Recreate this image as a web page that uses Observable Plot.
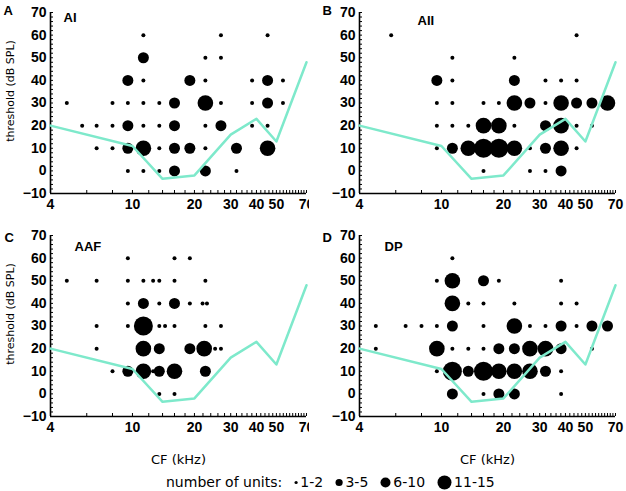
<!DOCTYPE html>
<html>
<head>
<meta charset="utf-8">
<script src="https://cdn.jsdelivr.net/npm/d3@7"></script>
<script src="https://cdn.jsdelivr.net/npm/@observablehq/plot@0.6"></script>
<style>
  body { margin: 0; background: white; }
  #fig { position: relative; width: 626px; height: 491px; background: white; }
  .panel { position: absolute; }
  #legend { position: absolute; left: 166px; top: 472px; height: 20px; display: flex; align-items: center;
            font-family: "DejaVu Sans", sans-serif; font-size: 14px; color: black; white-space: nowrap; }
  #legend .item { display: flex; align-items: center; margin-left: 12px; }
  #legend .item:first-of-type { margin-left: 10px; }
  #legend svg { margin-right: 2px; }
</style>
</head>
<body>
<div id="fig">
  <div class="panel" id="pA" style="left:0;top:0"></div>
  <div class="panel" id="pB" style="left:309px;top:0"></div>
  <div class="panel" id="pC" style="left:0;top:223px"></div>
  <div class="panel" id="pD" style="left:309px;top:223px"></div>
  <div id="legend"></div>
</div>
<script>
// unit-count bins (index used in the data rows)
const unitBins = ["1-2", "3-5", "6-10", "11-15"]

// audiogram (cyan line)
const audioCF = [4, 10, 14, 20, 30, 40, 50, 70]
const audioThr = [20, 11, -3.5, -2, 16, 23, 13, 48]

// rows: [CF kHz, threshold dB SPL, unit bin]
const AI = [
  [11.3,60,0],[26.9,60,0],[45.3,60,0],
  [11.3,50,1],[22.6,50,0],[26.9,50,0],
  [9.5,40,1],[11.3,40,0],[19,40,1],[22.6,40,0],[38.1,40,0],[45.3,40,1],[53.8,40,0],
  [4.8,30,0],[8,30,0],[9.5,30,0],[11.3,30,0],[13.5,30,0],[16,30,1],[22.6,30,2],[26.9,30,0],[38.1,30,0],[45.3,30,1],[53.8,30,0],
  [5.7,20,0],[6.7,20,0],[8,20,0],[9.5,20,1],[11.3,20,0],[13.5,20,0],[16,20,1],[22.6,20,0],[26.9,20,1],[38.1,20,0],[45.3,20,0],
  [6.7,10,0],[8,10,0],[9.5,10,1],[11.3,10,2],[13.5,10,0],[16,10,1],[19,10,1],[22.6,10,0],[32,10,1],[45.3,10,2],
  [9.5,0,0],[11.3,0,0],[13.5,0,0],[16,0,1],[22.6,0,1],[32,0,0]
]
const AII = [
  [5.7,60,0],[45.3,60,0],
  [11.3,50,0],[22.6,50,0],
  [9.5,40,1],[11.3,40,0],[22.6,40,1],[32,40,0],[38.1,40,0],[45.3,40,0],
  [9.5,30,0],[11.3,30,0],[16,30,0],[19,30,0],[22.6,30,2],[26.9,30,1],[32,30,0],[38.1,30,2],[45.3,30,1],[53.8,30,1],[64,30,2],
  [9.5,20,0],[11.3,20,0],[13.5,20,0],[16,20,2],[19,20,2],[22.6,20,0],[32,20,1],[38.1,20,2],[45.3,20,0],[53.8,20,0],
  [9.5,10,0],[11.3,10,1],[13.5,10,2],[16,10,3],[19,10,3],[22.6,10,2],[26.9,10,0],[32,10,1],[38.1,10,2],[45.3,10,0],
  [16,0,0],[26.9,0,0],[32,0,0],[38.1,0,1]
]
const AAF = [
  [9.5,60,0],[16,60,0],[19,60,0],
  [4.8,50,0],[6.7,50,0],[9.5,50,0],[11.3,50,0],[12.6,50,0],[13.5,50,0],[16,50,0],[22.6,50,0],
  [9.5,40,0],[11.3,40,1],[13.5,40,0],[16,40,1],[19,40,0],[21.9,40,0],[23,40,0],
  [6.7,30,0],[9.5,30,0],[11.3,30,3],[13.5,30,0],[14.4,30,0],[16,30,0],[22.6,30,0],[26.9,30,0],
  [6.7,20,0],[11.3,20,2],[13.5,20,1],[19,20,1],[22.3,20,2],[25.2,20,0],[26.9,20,0],
  [8,10,0],[9.5,10,1],[11.3,10,2],[12.6,10,0],[13.5,10,1],[16,10,2],[22.6,10,1],
  [13.5,0,0],[16,0,0]
]
const DP = [
  [11.3,60,0],
  [9.5,50,0],[11.3,50,2],[16,50,1],[19,50,0],[38.1,50,0],
  [11.3,40,2],[13.5,40,0],[16,40,0],[22.6,40,0],[38.1,40,0],[45.3,40,0],
  [4.8,30,0],[6.7,30,0],[8,30,0],[9.5,30,0],[11.3,30,1],[16,30,0],[22.6,30,2],[26.9,30,0],[32,30,0],[38.1,30,1],[45.3,30,0],[53.8,30,1],[64,30,1],
  [4.8,20,0],[9.5,20,2],[11.3,20,0],[13.5,20,0],[16,20,0],[19,20,1],[22.6,20,1],[26.9,20,2],[32,20,2],[38.1,20,1],[53.8,20,0],
  [9.5,10,0],[11.3,10,3],[13.5,10,1],[16,10,3],[19,10,2],[22.6,10,2],[26.9,10,2],[32,10,1],[38.1,10,0],
  [11.3,0,1],[16,0,0],[19,0,1],[22.6,0,1],[38.1,0,0]
]

// axes
const xDomain = [4, 70]
const yDomain = [-10, 70]
const xTicks = [4, 10, 20, 30, 40, 50, 70]
const yTicks = [-10, 0, 10, 20, 30, 40, 50, 60, 70]

// dot radius per bin (plot and legend)
const dotR = [2, 5.5, 7.8, 9.5]
const legendR = [1.6, 3.6, 5, 7]

const audiogram = audioCF.map((cf, i) => ({cf, thr: audioThr[i]}))
const labelFont = "DejaVu Sans, sans-serif"

function panel(el, {letter, name, rows, left, bottom, letterDx, letterDy, nameDx, nameDy}) {
  const data = rows.map(([cf, thr, bin]) => ({cf, thr, units: unitBins[bin]}))
  const H = bottom ? 247 : 215
  const chart = Plot.plot({
    width: 313,
    height: H,
    marginLeft: 50,
    marginRight: 7,
    marginTop: 12,
    marginBottom: H - 193,
    style: {fontFamily: "Liberation Sans, Arial, sans-serif", fontSize: "14px", fontWeight: "bold", color: "black", background: "white", overflow: "visible"},
    x: {type: "log", domain: xDomain},
    y: {domain: yDomain},
    r: {type: "identity"},
    marks: [
      // minor ticks, pointing inward
      Plot.axisX({ticks: d3.range(4, 71, 2), tickSize: 3, dy: -3, tickFormat: () => "", label: null}),
      Plot.axisY({ticks: d3.range(-10, 71, 2), tickSize: 3, dx: 3, tickFormat: () => "", label: null}),
      Plot.axisX({ticks: xTicks, tickSize: 0, tickPadding: 6, tickFormat: d => d, label: null}),
      Plot.axisY({ticks: yTicks, tickSize: 0, tickPadding: 4, label: null}),
      Plot.ruleY([yDomain[0]], {stroke: "black", strokeWidth: 1.6}),
      Plot.ruleX([xDomain[0]], {stroke: "black", strokeWidth: 1.6}),
      Plot.dot(data, {x: "cf", y: "thr", r: d => dotR[unitBins.indexOf(d.units)], fill: "black", stroke: "none"}),
      Plot.line(audiogram, {x: "cf", y: "thr", stroke: "#7ee9cb", strokeWidth: 2.5}),
      Plot.text([letter], {text: d => d, frameAnchor: "top-left", dx: letterDx, dy: letterDy, textAnchor: "start", lineAnchor: "middle", fontSize: 13, fontWeight: "bold"}),
      Plot.text([name], {text: d => d, frameAnchor: "top-left", dx: nameDx, dy: nameDy, textAnchor: "start", lineAnchor: "middle", fontSize: 13, fontWeight: "bold"}),
      left ? Plot.text(["threshold (dB SPL)"], {text: d => d, frameAnchor: "left", rotate: -90, dx: -40, dy: -12, textAnchor: "middle", lineAnchor: "middle", fontFamily: labelFont, fontSize: 11, fontWeight: "normal"}) : null,
      bottom ? Plot.text(["CF (kHz)"], {text: d => d, frameAnchor: "bottom", dy: 43, textAnchor: "middle", lineAnchor: "middle", fontFamily: labelFont, fontSize: 13, fontWeight: "normal"}) : null
    ]
  })
  d3.select(el).append(() => chart)
}

panel("#pA", {letter: "A", name: "AI", rows: AI, left: true, bottom: false, letterDx: -47, letterDy: -2, nameDx: 13, nameDy: 5})
panel("#pB", {letter: "B", name: "AII", rows: AII, left: false, bottom: false, letterDx: -37, letterDy: -2, nameDx: 58, nameDy: 8})
panel("#pC", {letter: "C", name: "AAF", rows: AAF, left: true, bottom: true, letterDx: -46, letterDy: 2, nameDx: 24, nameDy: 11})
panel("#pD", {letter: "D", name: "DP", rows: DP, left: false, bottom: true, letterDx: -37, letterDy: 2, nameDx: 25, nameDy: 11})

// legend
const legend = d3.select("#legend")
legend.append("span").text("number of units:")
unitBins.forEach((b, i) => {
  const item = legend.append("span").attr("class", "item")
  const r = legendR[i]
  item.append("svg").attr("width", 2 * r + 1).attr("height", 16)
    .append("circle").attr("cx", r + 0.5).attr("cy", 8.5).attr("r", r).attr("fill", "black")
  item.append("span").text(b)
})
</script>
</body>
</html>
